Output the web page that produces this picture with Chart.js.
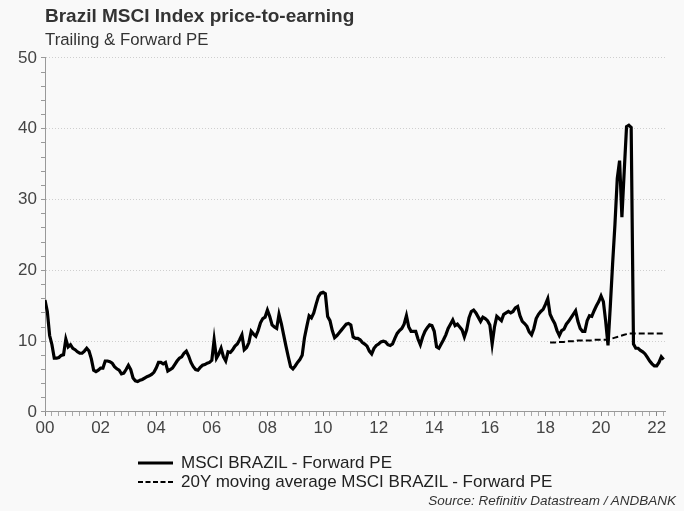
<!DOCTYPE html>
<html><head><meta charset="utf-8">
<script src="https://cdn.jsdelivr.net/npm/chart.js@4.4.1/dist/chart.umd.min.js"></script>
<style>
html,body{margin:0;padding:0;background:#f9f9f9;}
#wrap{position:relative;width:684px;height:511px;overflow:hidden;font-family:"Liberation Sans",Arial,sans-serif;background:#f9f9f9;}
#c{position:absolute;left:0;top:0;}
.leg{position:absolute;left:138px;height:19px;display:flex;align-items:center;font-size:17px;color:#222;white-space:nowrap;}
.leg svg{margin-right:8px;flex:none;}
#src{position:absolute;right:8px;top:493px;font-size:13.5px;font-style:italic;color:#333;white-space:nowrap;}
</style></head>
<body><div id="wrap"><canvas id="c" width="684" height="511"></canvas>
<div class="leg" style="top:453px"><svg width="35" height="6"><line x1="0" y1="3" x2="35" y2="3" stroke="#000" stroke-width="3"/></svg><span id="leg1"></span></div>
<div class="leg" style="top:472px"><svg width="35" height="6"><line x1="0" y1="3" x2="35" y2="3" stroke="#000" stroke-width="2" stroke-dasharray="5,2.5"/></svg><span id="leg2"></span></div>
<div id="src">Source: Refinitiv Datastream / ANDBANK</div>
</div>
<script>
const FONT = '"Liberation Sans", Arial, sans-serif';
const titleText = 'Brazil MSCI Index price-to-earning';
const subtitleText = 'Trailing & Forward PE';
const seriesNames = ['MSCI BRAZIL - Forward PE', '20Y moving average MSCI BRAZIL - Forward PE'];
const startYear = 2000;
// Monthly forward PE, Jan 2000 .. Apr 2022
const forwardPE = [
  15.8, 14.2, 10.8, 9.5, 7.6, 7.6, 7.7, 8.0, 8.1, 10.3, 9.2, 9.5,
  9.0, 8.8, 8.5, 8.3, 8.3, 8.6, 9.0, 8.6, 7.5, 5.9, 5.7, 5.9,
  6.2, 6.2, 7.2, 7.2, 7.1, 6.9, 6.4, 6.1, 5.9, 5.4, 5.5, 6.0,
  6.6, 6.0, 4.8, 4.4, 4.3, 4.5, 4.6, 4.8, 5.0, 5.1, 5.3, 5.6,
  6.2, 7.0, 7.0, 6.8, 7.0, 5.8, 6.0, 6.2, 6.7, 7.2, 7.6, 7.8,
  8.3, 8.6, 7.9, 7.0, 6.4, 6.0, 5.9, 6.3, 6.6, 6.7, 6.9, 7.0,
  7.3, 10.2, 7.6, 8.2, 9.0, 7.8, 7.2, 8.5, 8.4, 8.8, 9.3, 9.6,
  10.2, 10.9, 8.8, 9.1, 9.8, 11.4, 11.0, 10.7, 11.5, 12.6, 13.2, 13.4,
  14.4, 13.5, 12.3, 12.0, 11.8, 13.8, 12.5, 10.9, 9.3, 7.8, 6.4, 6.1,
  6.5, 7.0, 7.4, 8.0, 10.5, 12.1, 13.6, 13.3, 14.0, 15.2, 16.3, 16.8,
  16.9, 16.7, 13.5, 12.9, 11.5, 10.5, 10.8, 11.2, 11.6, 12.0, 12.4, 12.5,
  12.3, 10.6, 10.4, 10.4, 10.2, 9.8, 9.6, 9.3, 8.6, 8.2, 9.0, 9.4,
  9.6, 9.9, 10.0, 9.9, 9.5, 9.4, 9.6, 10.4, 11.1, 11.5, 11.8, 12.4,
  13.6, 12.0, 11.4, 11.4, 11.4, 10.3, 9.5, 10.6, 11.4, 11.9, 12.3, 12.2,
  11.4, 9.2, 9.0, 9.6, 10.2, 10.9, 11.8, 12.4, 13.0, 12.2, 12.4, 12.0,
  11.6, 10.6, 11.6, 13.3, 14.2, 14.4, 14.0, 13.4, 12.8, 13.4, 13.2, 12.9,
  12.3, 9.6, 12.0, 13.5, 13.2, 12.9, 13.8, 14.0, 14.2, 14.0, 14.2, 14.7,
  14.9, 13.6, 12.8, 12.5, 12.1, 11.3, 10.9, 11.8, 13.2, 13.8, 14.2, 14.5,
  15.2, 16.0, 13.8, 13.1, 12.5, 11.5, 10.8, 11.5, 11.7, 12.4, 12.8, 13.3,
  13.8, 14.3, 12.8, 11.8, 11.4, 11.4, 12.9, 13.6, 13.5, 14.3, 15.0, 15.6,
  16.4, 15.6, 12.8, 9.4, 15.0, 21.0, 26.5, 33.0, 35.5, 27.5, 34.0, 40.3,
  40.5, 40.2, 9.6, 9.0, 9.0, 8.7, 8.5, 8.2, 7.7, 7.2, 6.8, 6.5,
  6.5, 7.0, 7.8, 7.4
];
// 20Y moving average, starting at month index 218 (Mar 2018)
const maStartMonth = 218;
const movingAvg20Y = [
  9.8, 9.8, 9.8, 9.9, 9.9, 9.9, 9.9, 10.0, 10.0, 10.0, 10.0, 10.0,
  10.1, 10.1, 10.1, 10.1, 10.1, 10.1, 10.1, 10.2, 10.2, 10.2, 10.2, 10.2,
  10.2, 10.2, 10.3, 10.4, 10.5, 10.6, 10.7, 10.8, 10.9, 11.0, 11.1, 11.1,
  11.1, 11.1, 11.1, 11.1, 11.1, 11.1, 11.1, 11.1, 11.1, 11.1, 11.1, 11.1,
  11.1, 11.1
];
const xTickLabels = ['00','02','04','06','08','10','12','14','16','18','20','22'];
const yTickLabels = ['0','10','20','30','40','50'];

document.getElementById('leg1').textContent = seriesNames[0];
document.getElementById('leg2').textContent = seriesNames[1];

const peData = forwardPE.map((v, i) => ({x: i / 12, y: v}));
const maData = movingAvg20Y.map((v, i) => ({x: (maStartMonth + i) / 12, y: v}));

new Chart(document.getElementById('c'), {
  type: 'line',
  data: {
    datasets: [
      {label: seriesNames[0], data: peData, borderColor: '#000', borderWidth: 3.2, pointRadius: 0, tension: 0, fill: false, order: 1},
      {label: seriesNames[1], data: maData, borderColor: '#000', borderWidth: 2, borderDash: [6, 3], pointRadius: 0, tension: 0, fill: false, order: 2}
    ]
  },
  options: {
    responsive: false, animation: false, devicePixelRatio: 1,
    layout: {padding: {left: 0, right: 19, top: 0, bottom: 69}},
    plugins: {
      legend: {display: false},
      tooltip: {enabled: false},
      title: {display: true, text: titleText, align: 'start', fullSize: false, color: '#333',
        font: {family: FONT, size: 19, weight: 'bold'}, padding: {top: 5, bottom: 1}},
      subtitle: {display: true, text: subtitleText, align: 'start', fullSize: false, color: '#333',
        font: {family: FONT, size: 16.8}, padding: {top: 1, bottom: 8}}
    },
    scales: {
      x: {
        type: 'linear', min: 0, max: 22.3,
        afterFit(s) { s.height = 30; },
        border: {color: '#999', width: 1},
        grid: {drawOnChartArea: false, drawTicks: true, tickLength: 4,
          tickColor(ctx) { return Math.round(ctx.tick.value * 4) % 8 === 0 ? '#888' : '#aaa'; }},
        ticks: {stepSize: 0.25, autoSkip: false, maxRotation: 0, minRotation: 0, includeBounds: false,
          padding: 2, color: '#444', font: {family: FONT, size: 17},
          callback(v) { const k = Math.round(v * 4); return k % 8 === 0 ? xTickLabels[k / 8] : ''; }}
      },
      y: {
        min: 0, max: 50,
        afterFit(s) { s.width = 45; },
        border: {color: '#999', width: 1, dash: [1, 2]},
        grid: {
          color(ctx) { return ctx.tick && Math.round(ctx.tick.value) % 10 === 0 ? '#cfcfcf' : 'transparent'; },
          tickColor: '#999', tickLength: 4, tickBorderDash: []
        },
        ticks: {stepSize: 2, autoSkip: false, padding: 4, color: '#444', font: {family: FONT, size: 17},
          callback(v) { return Math.round(v) % 10 === 0 ? yTickLabels[Math.round(v) / 10] : ''; }}
      }
    }
  }
});
</script>
</body></html>
